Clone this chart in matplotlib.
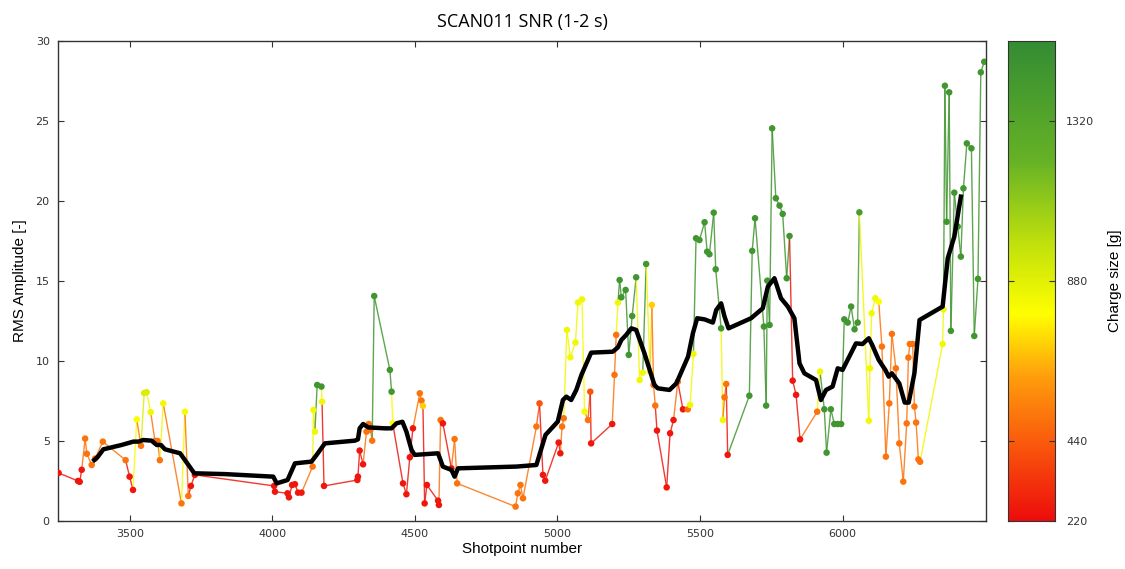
import numpy as np
import matplotlib
matplotlib.use("Agg")
import matplotlib.pyplot as plt
from matplotlib.collections import LineCollection
from matplotlib.colors import LinearSegmentedColormap, Normalize

# ---- data ----
shotpoint = [3250, 3318, 3324, 3331, 3343, 3349, 3366, 3378, 3405, 3485,
             3499, 3511, 3524, 3539, 3550, 3559, 3573, 3588, 3597, 3605,
             3617, 3681, 3693, 3705, 3714, 3728, 4006, 4009, 4053, 4058,
             4069, 4079, 4090, 4102, 4141, 4144, 4149, 4157, 4172, 4174,
             4181, 4298, 4300, 4306, 4318, 4330, 4338, 4344, 4350, 4357,
             4412, 4418, 4422, 4458, 4470, 4482, 4493, 4517, 4523, 4528,
             4534, 4542, 4581, 4584, 4590, 4598, 4628, 4639, 4648, 4853,
             4861, 4870, 4879, 4926, 4937, 4949, 4957, 5004, 5010, 5016,
             5022, 5033, 5045, 5063, 5072, 5086, 5095, 5107, 5115, 5118,
             5192, 5200, 5206, 5212, 5218, 5224, 5239, 5250, 5262, 5276,
             5288, 5299, 5311, 5325, 5331, 5337, 5343, 5349, 5383, 5395,
             5407, 5422, 5440, 5457, 5465, 5477, 5486, 5498, 5516, 5525,
             5533, 5548, 5555, 5574, 5580, 5586, 5592, 5597, 5673, 5683,
             5693, 5724, 5732, 5736, 5744, 5753, 5766, 5779, 5790, 5804,
             5814, 5825, 5837, 5851, 5911, 5921, 5936, 5944, 5959, 5971,
             5983, 5995, 6006, 6018, 6030, 6042, 6053, 6059, 6092, 6096,
             6102, 6115, 6127, 6138, 6152, 6164, 6173, 6187, 6199, 6213,
             6225, 6231, 6236, 6246, 6252, 6258, 6266, 6272, 6351, 6354,
             6359, 6365, 6374, 6380, 6392, 6404, 6415, 6424, 6436, 6452,
             6462, 6475, 6485, 6497]
rms = [3.0, 2.5, 2.45, 3.2, 5.15, 4.2, 3.5, 3.9, 4.96, 3.8,
       2.77, 1.94, 6.35, 4.7, 8.0, 8.05, 6.8, 5.0, 5.0, 3.8,
       7.35, 1.1, 6.83, 1.56, 2.19, 2.88, 2.19, 1.83, 1.73, 1.48,
       2.25, 2.3, 1.77, 1.77, 3.4, 6.94, 5.58, 8.5, 8.4, 7.46,
       2.19, 2.56, 2.77, 4.4, 3.54, 5.58, 6.06, 5.7, 5.02, 14.06,
       9.44, 8.08, 6.1, 2.35, 1.67, 3.98, 5.79, 7.98, 7.52, 7.19,
       1.1, 2.25, 1.27, 1.0, 6.31, 6.1, 3.29, 5.12, 2.35, 0.9,
       1.73, 2.25, 1.42, 5.9, 7.35, 2.88, 2.52, 4.9, 4.23, 5.9,
       6.42, 11.94, 10.23, 11.15, 13.65, 13.85, 6.83, 6.31, 8.08, 4.85,
       6.06, 9.13, 11.63, 13.65, 15.06, 13.98, 14.44, 10.38, 12.81, 15.23,
       8.81, 9.27, 16.06, 9.33, 13.5, 8.5, 7.21, 5.65, 2.1, 5.48,
       6.31, 8.7, 6.98, 6.98, 7.25, 10.44, 17.67, 17.56, 18.67, 16.83,
       16.67, 19.27, 15.73, 12.04, 6.31, 7.73, 8.56, 4.13, 7.83, 16.88,
       18.92, 12.15, 7.21, 15.02, 12.25, 24.54, 20.17, 19.71, 19.19, 15.17,
       17.81, 8.77, 7.88, 5.1, 6.83, 9.33, 6.98, 4.27, 6.98, 6.06,
       6.06, 6.06, 12.6, 12.4, 13.4, 11.98, 12.4, 19.29, 6.27, 9.54,
       12.98, 13.92, 13.71, 10.9, 4.02, 7.35, 11.69, 9.54, 4.85, 2.46,
       6.1, 10.21, 11.06, 11.06, 7.15, 6.15, 3.85, 3.7, 11.06, 13.23,
       27.2, 18.7, 26.79, 11.88, 20.52, 18.4, 16.52, 20.79, 23.6, 23.29,
       11.56, 15.13, 28.04, 28.7]
charge = [250, 250, 250, 250, 500, 500, 500, 500, 500, 500,
          250, 250, 800, 500, 900, 900, 830, 500, 500, 500,
          830, 500, 810, 500, 250, 250, 250, 250, 250, 250,
          250, 250, 250, 250, 500, 830, 830, 1450, 1450, 830,
          250, 250, 250, 250, 250, 500, 500, 500, 500, 1450,
          1450, 1450, 800, 250, 250, 250, 250, 500, 500, 700,
          250, 250, 250, 250, 500, 250, 250, 500, 500, 500,
          500, 500, 500, 500, 420, 250, 250, 250, 250, 500,
          500, 830, 830, 830, 830, 830, 810, 500, 420, 250,
          250, 500, 500, 830, 1450, 1450, 1450, 1450, 1450, 1450,
          830, 830, 1450, 830, 700, 500, 500, 250, 250, 250,
          250, 500, 250, 500, 830, 830, 1450, 1450, 1450, 1450,
          1450, 1450, 1450, 1450, 830, 500, 500, 250, 1450, 1450,
          1450, 1450, 1450, 1450, 1450, 1450, 1450, 1450, 1450, 1450,
          1450, 250, 250, 250, 500, 830, 1450, 1450, 1450, 1450,
          1450, 1450, 1450, 1450, 1450, 1450, 1450, 1400, 830, 830,
          830, 830, 800, 500, 500, 500, 500, 500, 500, 500,
          500, 500, 500, 500, 500, 500, 500, 500, 830, 830,
          1450, 1450, 1450, 1450, 1450, 1450, 1450, 1450, 1450, 1450,
          1450, 1450, 1450, 1450]

avg_x = [3375, 3387, 3407, 3471, 3512, 3530, 3547, 3576, 3594, 3609,
         3623, 3676, 3693, 3726, 3833, 4003, 4015, 4053, 4079, 4137,
         4155, 4184, 4289, 4300, 4306, 4318, 4336, 4394, 4418, 4435,
         4456, 4470, 4488, 4499, 4581, 4598, 4628, 4639, 4651, 4856,
         4926, 4958, 5001, 5019, 5031, 5048, 5066, 5084, 5118, 5194,
         5212, 5224, 5241, 5259, 5276, 5305, 5340, 5352, 5393, 5417,
         5458, 5475, 5490, 5516, 5545, 5557, 5574, 5586, 5600, 5679,
         5720, 5738, 5761, 5784, 5808, 5831, 5849, 5866, 5907, 5924,
         5942, 5965, 5983, 6000, 6047, 6070, 6092, 6104, 6127, 6150,
         6162, 6173, 6199, 6218, 6232, 6252, 6270, 6351, 6369, 6392,
         6415]
avg_y = [3.81, 4.0, 4.48, 4.75, 4.96, 4.96, 5.06, 5.02, 4.75, 4.75,
         4.48, 4.23, 3.81, 2.98, 2.93, 2.77, 2.35, 2.56, 3.6, 3.71,
         4.13, 4.85, 5.02, 5.1, 5.79, 6.06, 5.85, 5.79, 5.79, 6.1,
         6.2, 5.58, 4.44, 4.13, 4.23, 3.4, 3.19, 2.77, 3.29, 3.4,
         3.5, 5.38, 6.21, 7.56, 7.77, 7.56, 8.19, 9.13, 10.52, 10.58,
         10.85, 11.31, 11.63, 12.04, 11.94, 10.48, 8.5, 8.29, 8.19, 8.6,
         10.27, 11.73, 12.67, 12.6, 12.4, 13.19, 13.6, 12.77, 12.04, 12.67,
         13.29, 14.65, 15.17, 13.92, 13.4, 12.67, 9.85, 9.23, 8.81, 7.56,
         8.19, 8.4, 9.54, 9.44, 11.1, 11.06, 11.42, 11.0, 10.06, 9.44,
         9.02, 9.23, 8.6, 7.4, 7.4, 9.23, 12.56, 13.4, 16.42, 17.77,
         20.27]

cbar_ticks = [220, 440, 880, 1320]

# ---- colormap ----
cmap = LinearSegmentedColormap.from_list("charge", [
    (0.00, (0.93, 0.05, 0.05)),
    (0.15, (0.98, 0.33, 0.05)),
    (0.30, (1.00, 0.62, 0.05)),
    (0.43, (1.00, 1.00, 0.00)),
    (0.58, (0.75, 0.88, 0.05)),
    (0.75, (0.40, 0.70, 0.15)),
    (1.00, (0.20, 0.55, 0.20)),
])
norm = Normalize(vmin=220, vmax=1540)

fig = plt.figure(figsize=(11.25, 5.69), dpi=100)
ax = fig.add_axes([0.0516, 0.0844, 0.8248, 0.8436])
cax = fig.add_axes([0.896, 0.0844, 0.0418, 0.8436])

x = np.array(shotpoint, float)
y = np.array(rms, float)
c = np.array(charge, float)
cols = cmap(norm(c))
segs = np.stack([np.column_stack([x[:-1], y[:-1]]), np.column_stack([x[1:], y[1:]])], axis=1)
lc = LineCollection(segs, colors=cols[1:], linewidths=1.0, alpha=0.85, zorder=2)
ax.add_collection(lc)
ax.scatter(x, y, c=c, cmap=cmap, norm=norm, s=22, edgecolors='none', zorder=3)
ax.plot(avg_x, avg_y, color='black', lw=3.2, solid_joinstyle='round', zorder=4)

ax.set_xlim(3248, 6503)
ax.set_ylim(0, 30)
ax.set_xticks([3500, 4000, 4500, 5000, 5500, 6000])
ax.set_yticks([0, 5, 10, 15, 20, 25, 30])
ax.tick_params(direction='in', length=4, width=0.8, labelsize=8, colors='#333333',
               top=True, right=True, pad=6)
for s in ax.spines.values():
    s.set_color('#333333')
    s.set_linewidth(1.0)
ax.set_xlabel("Shotpoint number", fontsize=11, family='Liberation Sans', labelpad=2)
ax.set_ylabel("RMS Amplitude [-]", fontsize=11, family='Liberation Sans', labelpad=6)
ax.set_title("SCAN011 SNR (1-2 s)", fontsize=13, family='Open Sans', pad=10)

grad = np.linspace(220, 1540, 512).reshape(-1, 1)
cax.imshow(grad, aspect='auto', cmap=cmap, norm=norm, origin='lower',
           extent=[0, 1, 220, 1540])
cax.set_xticks([])
cax.yaxis.tick_right()
cax.set_yticks(cbar_ticks)
cax.tick_params(axis='y', direction='in', length=4, labelsize=8, colors='#333333', pad=8,
                left=True, right=True)
cax.yaxis.set_label_position('right')
cax.set_ylabel("Charge size [g]", fontsize=11, family='Liberation Sans', labelpad=10)
for s in cax.spines.values():
    s.set_color('#333333')

fig.savefig("out.png", dpi=100, facecolor='white')
